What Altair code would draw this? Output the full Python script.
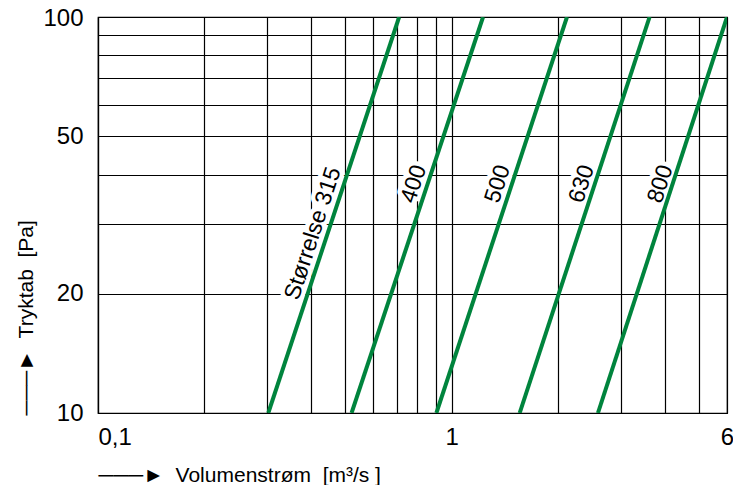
import altair as alt
import pandas as pd

# Duct sizes and their flow at the bottom (10 Pa) and top (100 Pa) of the chart
sizes = ["315", "400", "500", "630", "800"]
flow_at_10pa = [0.303, 0.521, 0.905, 1.556, 2.59]
flow_at_100pa = [0.710, 1.226, 2.117, 3.625, 6.0]
pressure_ends = [10, 100]

# Curve labels
label_text = ["Størrelse 315", "400", "500", "630", "800"]
label_flow = [0.405, 0.781, 1.349, 2.33, 3.89]
label_pressure = [28.4, 37.9, 37.9, 37.9, 37.9]

# Grid and tick labels
x_grid = [0.1, 0.2, 0.3, 0.4, 0.5, 0.6, 0.7, 0.8, 0.9, 1, 2, 3, 4, 5, 6]
x_tick_values = [0.1, 1, 6]
x_tick_texts = ["0,1", "1", "6"]
y_grid = [10, 20, 30, 40, 50, 60, 70, 80, 90, 100]
y_tick_values = [10, 20, 50, 100]
y_tick_texts = ["10", "20", "50", "100"]

NB = "\u00a0"
x_title = f"───►{NB} Volumenstrøm{NB} [m³/s ]"
y_title = f"───►{NB}{NB}Tryktab{NB} [Pa]"

FONT = "Liberation Sans"

rows = []
for s, lo, hi in zip(sizes, flow_at_10pa, flow_at_100pa):
    rows.append({"size": s, "flow": lo, "pressure": pressure_ends[0]})
    rows.append({"size": s, "flow": hi, "pressure": pressure_ends[1]})
lines_df = pd.DataFrame(rows)

labels_df = pd.DataFrame({"label": label_text, "flow": label_flow, "pressure": label_pressure})


def label_expr(values, texts):
    expr = "''"
    for v, t in reversed(list(zip(values, texts))):
        expr = f"datum.value == {v} ? '{t}' : ({expr})"
    return expr


x_scale = alt.Scale(type="log", domain=[0.1, 6], nice=False, zero=False)
y_scale = alt.Scale(type="log", domain=[10, 100], nice=False, zero=False)

x_axis = alt.Axis(
    values=x_grid,
    labelExpr=label_expr(x_tick_values, x_tick_texts),
    grid=True, gridColor="black", gridWidth=1.2, gridOpacity=1,
    ticks=False, tickSize=0,
    domainColor="black", domainWidth=1.2,
    labelFont=FONT, labelFontSize=24, labelColor="black", labelPadding=12,
    labelOverlap=False, labelBound=False, labelFlush=False,
    labelAlign={"condition": {"test": "datum.value <= 0.1", "value": "left"}, "value": "center"},
    title=x_title, titleFont=FONT, titleFontSize=21, titleFontWeight="normal",
    titleColor="black", titleAnchor="start", titleAlign="left",
    titleBaseline="alphabetic", titleX=0, titleY=68,
)

y_axis = alt.Axis(
    values=y_grid,
    labelExpr=label_expr(y_tick_values, y_tick_texts),
    grid=True, gridColor="black", gridWidth=1.2, gridOpacity=1,
    ticks=False, tickSize=0,
    domainColor="black", domainWidth=1.2,
    labelFont=FONT, labelFontSize=24, labelColor="black", labelPadding=15,
    labelOverlap=False, labelBound=False, labelFlush=False,
    labelOffset={"condition": {"test": "datum.value >= 100", "value": 1.5}, "value": 0},
    title=y_title, titleFont=FONT, titleFontSize=21, titleFontWeight="normal",
    titleColor="black", titleAnchor="start", titleAlign="left", titleAngle=270,
    titleBaseline="alphabetic", titleX=-66, titleY=398,
)

base_lines = alt.Chart(lines_df).mark_line(color="#00843D", strokeWidth=4, clip=True).encode(
    x=alt.X("flow:Q", scale=x_scale, axis=x_axis),
    y=alt.Y("pressure:Q", scale=y_scale, axis=y_axis),
    detail="size:N",
)

halo = alt.Chart(labels_df).mark_text(
    angle=288, font=FONT, fontSize=23, align="center", baseline="middle",
    color="white", stroke="white", strokeWidth=9, strokeJoin="round",
).encode(
    x=alt.X("flow:Q", scale=x_scale),
    y=alt.Y("pressure:Q", scale=y_scale),
    text="label:N",
)

text = alt.Chart(labels_df).mark_text(
    angle=288, font=FONT, fontSize=23, align="center", baseline="middle", color="black",
).encode(
    x=alt.X("flow:Q", scale=x_scale),
    y=alt.Y("pressure:Q", scale=y_scale),
    text="label:N",
)

chart = alt.layer(halo, base_lines, text).properties(
    width=629, height=396,
    padding={"left": 90, "top": 9, "right": 6, "bottom": 72},
    autosize="none",
    background="white",
).configure_view(stroke="black", strokeWidth=1.2)

chart.save("out.html", embed_options={"renderer": "svg", "actions": False})
